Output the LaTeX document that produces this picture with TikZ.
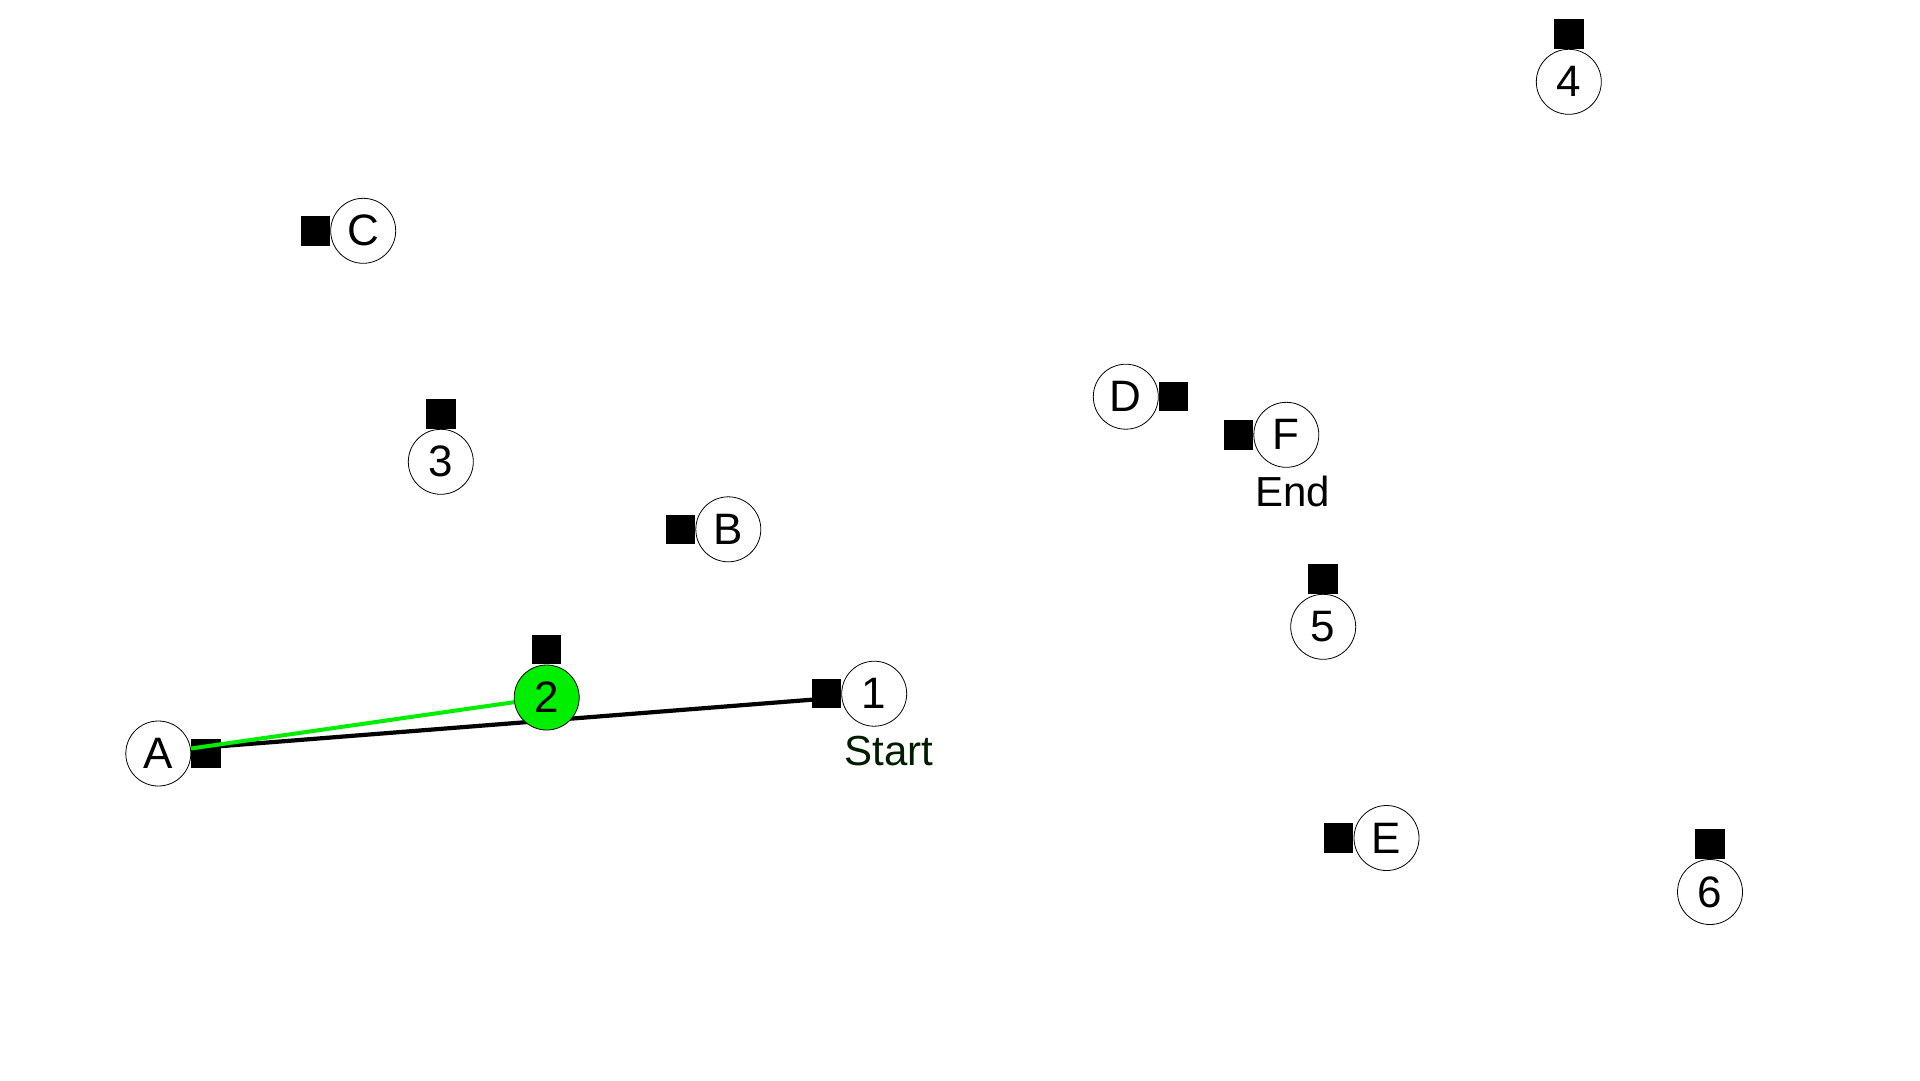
\documentclass[tikz,border=0pt]{standalone}
\usepackage{fontspec}
\setmainfont{Liberation Sans}
\definecolor{brightgreen}{RGB}{0,238,0}
\definecolor{startgreen}{RGB}{0,28,0}
\begin{document}
\begin{tikzpicture}[x=1pt,y=-1pt,
  circ/.style={circle,draw=black,line width=0.8pt,fill=white,minimum size=65pt,inner sep=0pt,font=\fontsize{44}{44}\selectfont},
  sq/.style={rectangle,fill=black,minimum size=29.5pt,inner sep=0pt},
  lbl/.style={font=\fontsize{42}{42}\selectfont,anchor=base,inner sep=0pt},
  pathblack/.style={draw=black,line width=4.2pt},
  pathgreen/.style={draw=brightgreen,line width=4pt}]
\useasboundingbox (0,0) rectangle (1920,1080);

% circles with their squares
\node[circ] (n4) at (1568.8,81.8) {4};
\node[sq,anchor=south] (s4) at (n4.north) {};
\node[circ] (nC) at (363.2,230.8) {C};
\node[sq,anchor=east] (sC) at (nC.west) {};
\node[circ] (n3) at (440.8,461.8) {3};
\node[sq,anchor=south] (s3) at (n3.north) {};
\node[circ] (nB) at (728.3,529.3) {B};
\node[sq,anchor=east] (sB) at (nB.west) {};
\node[circ] (nD) at (1125.8,396.7) {D};
\node[sq,anchor=west] (sD) at (nD.east) {};
\node[circ] (nF) at (1286.3,434.8) {F};
\node[sq,anchor=east] (sF) at (nF.west) {};
\node[circ] (n5) at (1323.2,626.8) {5};
\node[sq,anchor=south] (s5) at (n5.north) {};
\node[circ] (nE) at (1386.5,838) {E};
\node[sq,anchor=east] (sE) at (nE.west) {};
\node[circ] (n6) at (1710,892) {6};
\node[sq,anchor=south] (s6) at (n6.north) {};
\node[circ] (nA) at (158.3,753.5) {A};
\node[sq,anchor=west] (sA) at (nA.east) {};
\node[circ] (n1) at (874.2,693.7) {1};
\node[sq,anchor=east] (s1) at (n1.west) {};

% labels
\node[lbl,text=startgreen] (start) at (888.7,765) {Start};
\node[lbl] (end) at (1292.7,506.7) {End};

% connectors
\coordinate (a0) at (191,748.5);
\coordinate (b1) at (827,698.5);
\coordinate (c2) at (546.7,697.5);
\draw[pathblack] (a0) -- (b1);
\draw[pathgreen] (a0) -- (c2);

% node 2 on top of the connectors
\node[circ,fill=brightgreen] (n2) at (c2) {2};
\node[sq,anchor=south] (s2) at (n2.north) {};
\end{tikzpicture}
\end{document}
